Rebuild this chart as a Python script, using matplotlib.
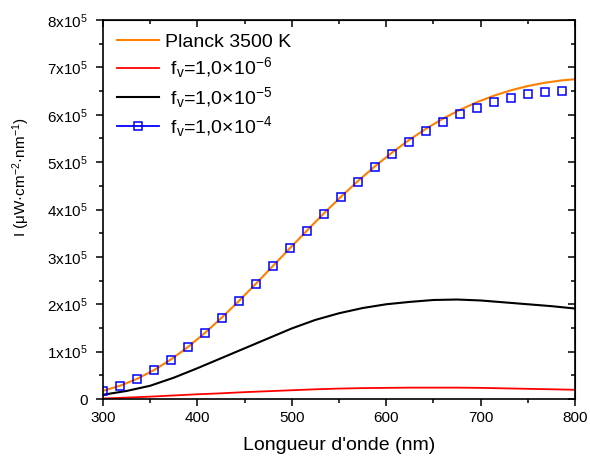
import matplotlib
matplotlib.use("Agg")
import matplotlib.pyplot as plt
from matplotlib.lines import Line2D
from matplotlib.ticker import MultipleLocator, FixedLocator, FixedFormatter

plt.rcParams['font.family'] = ['Liberation Sans', 'DejaVu Sans']
plt.rcParams['mathtext.fontset'] = 'custom'
plt.rcParams['mathtext.rm'] = 'Liberation Sans'
plt.rcParams['mathtext.default'] = 'regular'

# Planck curve at 3500 K (wavelength in nm, intensity in 1e5 uW cm-2 nm-1)
planck_wl = [300, 318, 336, 354, 372, 390, 408, 426, 444, 462, 480, 498, 516, 534,
             552, 570, 588, 606, 624, 642, 660, 678, 696, 714, 732, 750, 768, 786, 800]
planck_val = [0.173, 0.280, 0.425, 0.610, 0.835, 1.098, 1.395, 1.722, 2.070, 2.435,
              2.808, 3.183, 3.555, 3.919, 4.267, 4.600, 4.911, 5.199, 5.464, 5.703,
              5.916, 6.103, 6.265, 6.402, 6.516, 6.607, 6.676, 6.726, 6.750]

# fv = 1e-6 and 1e-5 curves
curve_wl = [300, 325, 350, 375, 400, 425, 450, 475, 500, 525, 550,
            575, 600, 625, 650, 675, 700, 725, 750, 775, 800]
fv6_val = [0.01, 0.03, 0.05, 0.075, 0.10, 0.12, 0.145, 0.165, 0.185, 0.205, 0.22,
           0.23, 0.235, 0.24, 0.24, 0.24, 0.235, 0.225, 0.215, 0.205, 0.195]
fv5_val = [0.09, 0.17, 0.28, 0.45, 0.65, 0.86, 1.07, 1.28, 1.49, 1.67, 1.81,
           1.92, 2.00, 2.05, 2.09, 2.10, 2.08, 2.04, 2.00, 1.96, 1.91]

# fv = 1e-4 (square markers)
fv4_wl = [300, 318, 336, 354, 372, 390, 408, 426, 444, 462, 480, 498, 516, 534,
          552, 570, 588, 606, 624, 642, 660, 678, 696, 714, 732, 750, 768, 786]
fv4_val = [0.17, 0.28, 0.42, 0.61, 0.83, 1.10, 1.39, 1.72, 2.07, 2.43, 2.80, 3.18,
           3.55, 3.91, 4.26, 4.59, 4.90, 5.18, 5.43, 5.65, 5.84, 6.01, 6.15, 6.27,
           6.35, 6.43, 6.47, 6.50]

labels = ["Planck 3500 K",
          r" f$_{v}$=1,0×10$^{-6}$",
          r" f$_{v}$=1,0×10$^{-5}$",
          r" f$_{v}$=1,0×10$^{-4}$"]
y_tick_labels = ["0"] + [r"%dx10$^{5}$" % i for i in range(1, 9)]

scale = 1e5
fig = plt.figure(figsize=(5.9, 4.57), dpi=100)
ax = fig.add_axes([0.1746, 0.1269, 0.8, 0.8293])

ax.plot(curve_wl, [v * scale for v in fv6_val], color="#ff0000", lw=1.3)
ax.plot(curve_wl, [v * scale for v in fv5_val], color="black", lw=1.5)
ax.plot(planck_wl, [v * scale for v in planck_val], color="#ff8000", lw=1.5)
ax.plot(fv4_wl, [v * scale for v in fv4_val], ls="none", marker="s", ms=6,
        mfc="none", mec="#0000ff", mew=1.1)

ax.set_xlim(300, 800)
ax.set_ylim(0, 8e5)
ax.xaxis.set_major_locator(MultipleLocator(100))
ax.xaxis.set_minor_locator(MultipleLocator(50))
ax.yaxis.set_major_locator(FixedLocator([i * scale for i in range(9)]))
ax.yaxis.set_major_formatter(FixedFormatter(y_tick_labels))
ax.yaxis.set_minor_locator(MultipleLocator(0.5e5))

ax.tick_params(which="both", direction="out", labelsize=11, width=1.1,
               top=False, right=False)
ax.tick_params(which="major", length=5)
ax.tick_params(which="minor", length=3)
ax.tick_params(axis="y", which="major", pad=6)
for s in ax.spines.values():
    s.set_linewidth(1.2)

# inward ticks on top and right
ax2 = ax.secondary_xaxis("top")
ax2.xaxis.set_major_locator(MultipleLocator(100))
ax2.xaxis.set_minor_locator(MultipleLocator(50))
ax2.tick_params(which="both", direction="in", labeltop=False, width=1.1)
ax2.tick_params(which="major", length=5)
ax2.tick_params(which="minor", length=3)
ax3 = ax.secondary_yaxis("right")
ax3.yaxis.set_major_locator(MultipleLocator(1e5))
ax3.yaxis.set_minor_locator(MultipleLocator(0.5e5))
ax3.tick_params(which="both", direction="in", labelright=False, width=1.1)
ax3.tick_params(which="major", length=5)
ax3.tick_params(which="minor", length=3)

ax.set_xlabel("Longueur d'onde (nm)", fontsize=14, labelpad=9)
ax.set_ylabel(r"I ($\mu$W·cm$^{-2}$·nm$^{-1}$)", fontsize=11)
ax.yaxis.set_label_coords(-0.15, 0.586)

handles = [Line2D([], [], color="#ff8000", lw=1.5),
           Line2D([], [], color="#ff0000", lw=1.3),
           Line2D([], [], color="black", lw=1.5),
           Line2D([], [], color="#0000ff", lw=1.3, marker="s", ms=6,
                  mfc="none", mec="#0000ff", mew=1.1)]
ax.legend(handles, labels, loc="upper left", frameon=False, fontsize=14,
          handlelength=2.2, labelspacing=0.22, handletextpad=0.3,
          borderaxespad=0.3, bbox_to_anchor=(0.0, 1.0))

fig.savefig("out.png", dpi=100)
